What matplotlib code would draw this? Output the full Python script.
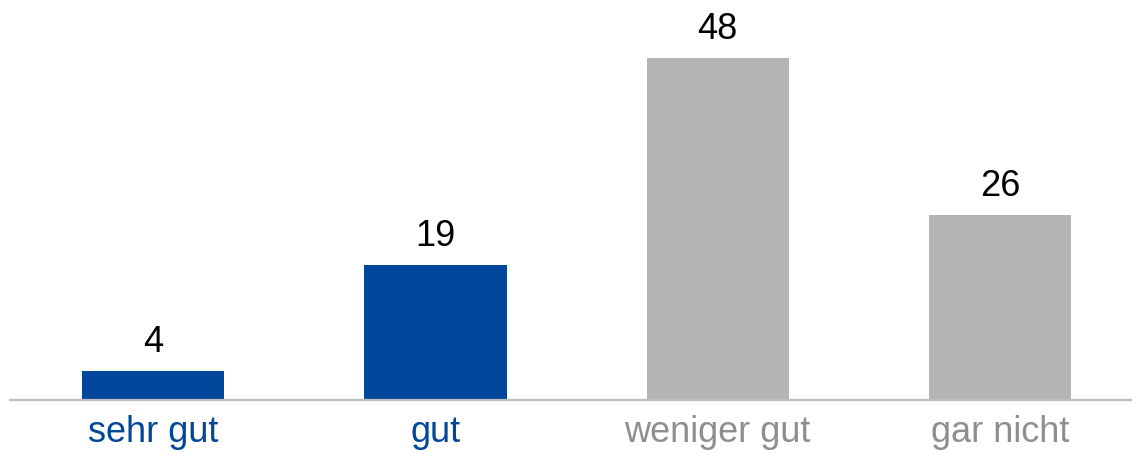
import matplotlib

matplotlib.use("Agg")
import matplotlib.pyplot as plt

categories = ["sehr gut", "gut", "weniger gut", "gar nicht"]
values = [4, 19, 48, 26]

BLUE = "#00469A"
GRAY = "#B5B5B5"
bar_colors = [BLUE, BLUE, GRAY, GRAY]
label_colors = [BLUE, BLUE, "#8E8E8E", "#8E8E8E"]

plt.rcParams["font.family"] = ["Liberation Sans", "DejaVu Sans"]

fig = plt.figure(figsize=(11.32, 4.53), dpi=100)
ax = fig.add_axes([10 / 1132, 53 / 453, 1 - 10 / 1132, 400 / 453])

positions = list(range(len(categories)))
ax.bar(positions, values, width=0.504, color=bar_colors)
ax.set_xlim(-0.507, 3.468)
ax.set_ylim(0, 56.14)

for x, v in zip(positions, values):
    ax.annotate(str(v), (x, v), xytext=(0, 13.7), textcoords="offset points",
                ha="center", va="baseline", fontsize=26, color="black")

for x, name, c in zip(positions, categories, label_colors):
    ax.annotate(name, (x, 0), xycoords=("data", "axes fraction"),
                xytext=(0, -30.5), textcoords="offset points",
                ha="center", va="baseline", fontsize=26, color=c)

ax.axhline(0, color="#BDBDBD", linewidth=1.6, clip_on=False)
for s in ax.spines.values():
    s.set_visible(False)
ax.set_xticks([])
ax.set_yticks([])

fig.savefig("out.png", dpi=100)
